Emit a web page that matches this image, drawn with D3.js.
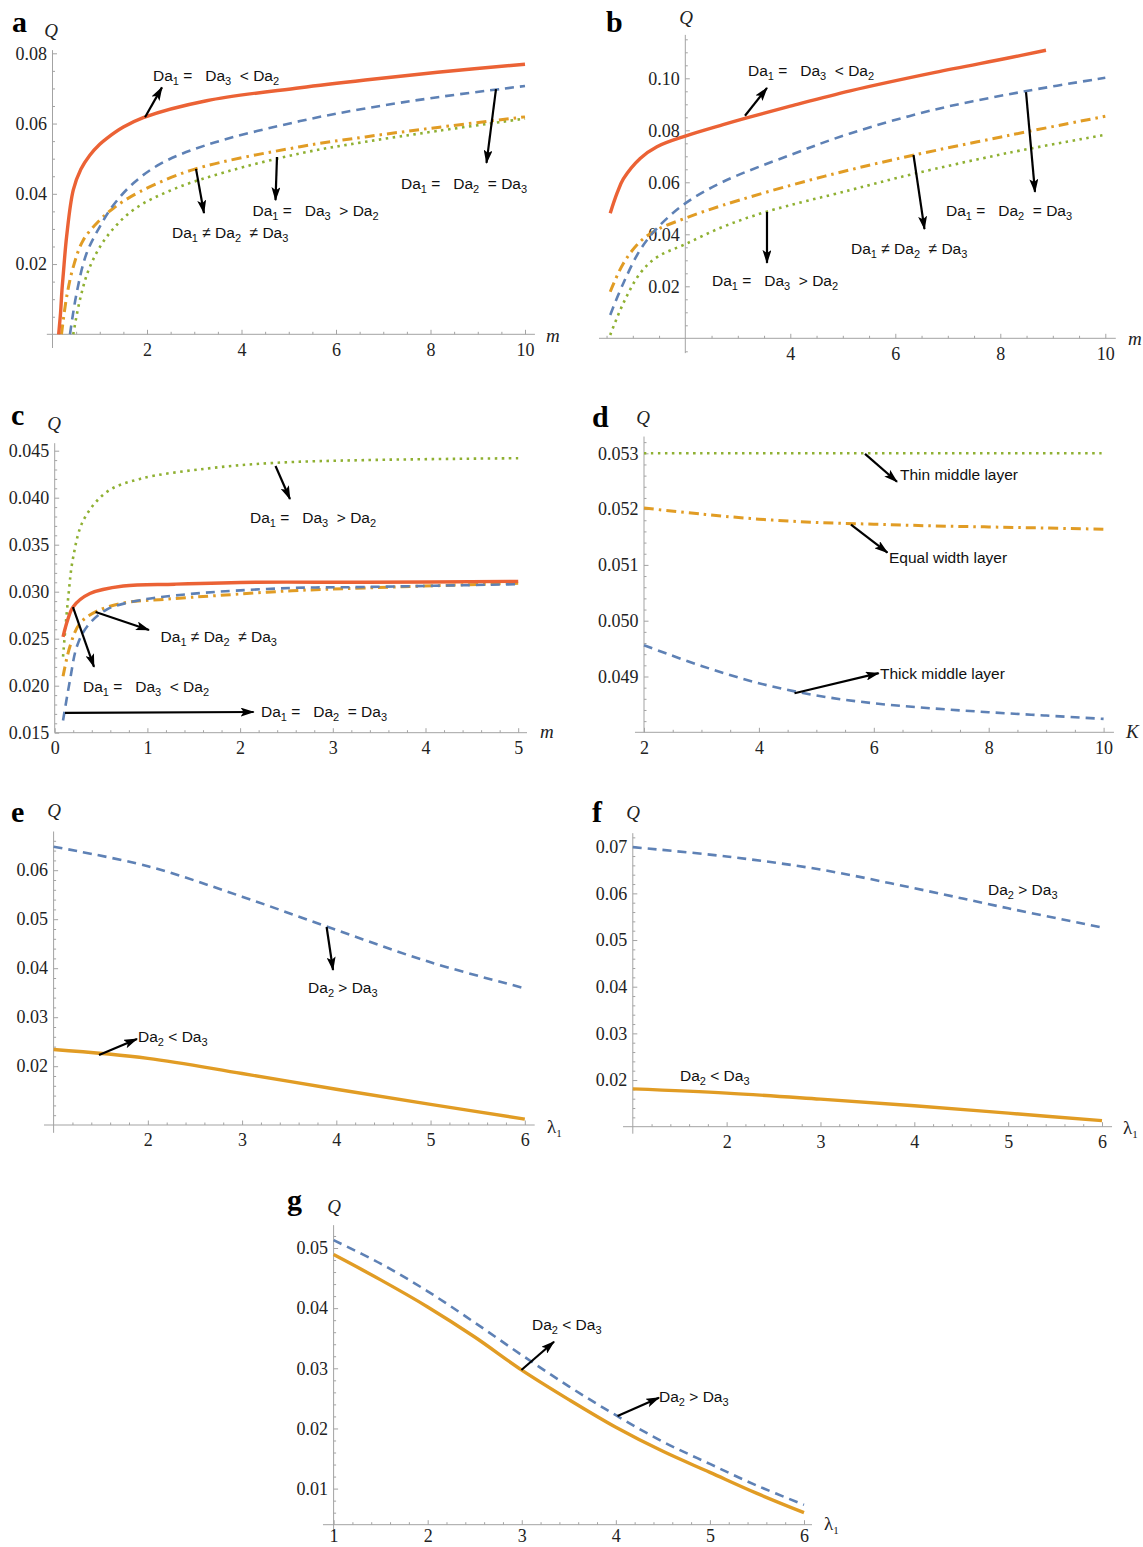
<!DOCTYPE html>
<html>
<head>
<meta charset="utf-8">
<script src="https://cdn.jsdelivr.net/npm/d3@7"></script>
<style>
  body { margin: 0; background: #fff; }
  svg { display: block; }
  .note { font-family: "Liberation Sans", Arial, sans-serif; font-size: 15.5px; fill: #111; white-space: pre; }
  .tick text { font-family: "Liberation Serif", "Times New Roman", serif; font-size: 18px; fill: #222; }
  .letter { font-family: "Liberation Serif", "Times New Roman", serif; font-size: 30px; font-weight: bold; }
  .aname { font-family: "Liberation Serif", "Times New Roman", serif; font-size: 19px; font-style: italic; fill: #222; }
</style>
</head>
<body>
<script>
// ---- data ----
// panel a  (m, Q)
const aRed    = [[0.13,0],[0.17,0.006],[0.2,0.0125],[0.23,0.0174],[0.3,0.028],[0.44,0.0411],[0.6,0.047],[0.79,0.051],[1.0,0.0541],[1.15,0.0558],[1.5,0.059],[1.92,0.0617],[3.26,0.0665],[5.24,0.0702],[6.62,0.0724],[8.15,0.0746],[10,0.0769]];
const aBlue   = [[0.37,0],[0.51,0.0117],[0.72,0.023],[1.0,0.0306],[1.29,0.0368],[1.71,0.043],[2.28,0.0485],[3.26,0.0539],[5.24,0.0607],[6.62,0.0643],[8.15,0.0675],[10,0.0707]];
const aOrange = [[0.19,0],[0.3,0.0107],[0.44,0.0192],[0.65,0.0268],[1.0,0.0325],[1.29,0.0359],[1.85,0.0406],[2.98,0.0469],[5.24,0.0534],[6.62,0.0562],[8.15,0.0589],[10,0.0619]];
const aGreen  = [[0.44,0],[0.58,0.0098],[0.79,0.0192],[1.15,0.0278],[1.71,0.0354],[2.56,0.0413],[3.69,0.0463],[5.24,0.0515],[6.62,0.0548],[8.15,0.0579],[10,0.0614]];
const aXTicks = [2, 4, 6, 8, 10];
const aYTicks = [0.02, 0.04, 0.06, 0.08];

// panel b  (m, Q)
const bRed    = [[0.57,0.0481],[0.7,0.0558],[0.82,0.0613],[1.14,0.0692],[1.46,0.0737],[2,0.0778],[2.72,0.0822],[3.17,0.0848],[4,0.0893],[5.14,0.0952],[6.76,0.1023],[8.15,0.1078],[8.87,0.1108]];
const bBlue   = [[0.57,0.009],[0.82,0.0212],[1.14,0.034],[1.46,0.0423],[2,0.0519],[2.72,0.0602],[4,0.0705],[5.14,0.0788],[6.76,0.088],[8.47,0.095],[10,0.1002]];
const bOrange = [[0.57,0.0179],[0.82,0.0288],[1.14,0.0372],[1.46,0.0417],[2,0.0462],[2.72,0.0512],[4,0.0588],[5.14,0.0648],[6.34,0.0704],[8.15,0.078],[10,0.0854]];
const bGreen  = [[0.57,0.0013],[0.82,0.0135],[1.14,0.025],[1.46,0.0312],[2,0.0362],[2.72,0.0429],[3.55,0.0487],[5.14,0.057],[6.34,0.0632],[8.15,0.0713],[10,0.0783]];
const bXTicks = [4, 6, 8, 10];
const bYTicks = [0.02, 0.04, 0.06, 0.08, 0.10];

// panel c  (m, Q)
const cRed    = [[0.09,0.0252],[0.14,0.027],[0.2,0.0284],[0.38,0.0298],[0.74,0.0306],[1.3,0.0308],[2.17,0.031],[3.35,0.031],[5,0.0311]];
const cBlue   = [[0.09,0.0163],[0.165,0.0206],[0.24,0.0242],[0.35,0.0263],[0.56,0.0281],[0.92,0.0291],[1.3,0.0296],[1.77,0.03],[2.56,0.0304],[3.35,0.0305],[5,0.0308]];
const cOrange = [[0.09,0.021],[0.165,0.0242],[0.27,0.0266],[0.45,0.0279],[0.74,0.0288],[1.2,0.0292],[1.77,0.0296],[2.56,0.0301],[3.35,0.0304],[5,0.0309]];
const cGreen  = [[0.09,0.0231],[0.147,0.0295],[0.2,0.0337],[0.31,0.0376],[0.56,0.0406],[0.92,0.042],[1.64,0.0431],[2.36,0.0437],[3.35,0.044],[5,0.0442]];
const cXTicks = [0, 1, 2, 3, 4, 5];
const cYTicks = [0.015, 0.020, 0.025, 0.030, 0.035, 0.040, 0.045];

// panel d  (K, Q)
const dK      = [2, 3, 4, 5, 6, 7, 8, 9, 10];
const dThin   = [0.053, 0.053, 0.053, 0.053, 0.053, 0.053, 0.053, 0.053, 0.053];
const dEqual  = [0.05202, 0.05191, 0.05182, 0.05176, 0.05173, 0.0517, 0.05168, 0.05166, 0.05164];
const dThick  = [0.04956, 0.04919, 0.04888, 0.04866, 0.04852, 0.04843, 0.04836, 0.0483, 0.04824];
const dXTicks = [2, 4, 6, 8, 10];
const dYTicks = [0.049, 0.050, 0.051, 0.052, 0.053];

// panel e  (lambda1, Q)
const eLam    = [1, 2, 3, 4, 5, 6];
const eBlue   = [0.0648, 0.0608, 0.0546, 0.0478, 0.0412, 0.0359];
const eOrange = [0.0234, 0.0216, 0.0185, 0.0153, 0.0122, 0.0092];
const eXTicks = [2, 3, 4, 5, 6];
const eYTicks = [0.02, 0.03, 0.04, 0.05, 0.06];

// panel f
const fLam    = [1, 2, 3, 4, 5, 6];
const fBlue   = [0.0699, 0.0679, 0.0651, 0.0611, 0.0568, 0.0527];
const fOrange = [0.0181, 0.0172, 0.0159, 0.0145, 0.0129, 0.0113];
const fXTicks = [2, 3, 4, 5, 6];
const fYTicks = [0.02, 0.03, 0.04, 0.05, 0.06, 0.07];

// panel g
const gLam    = [1, 1.5, 2, 2.5, 3, 3.5, 4, 4.5, 5, 5.5, 6];
const gBlue   = [0.0513, 0.0474, 0.0428, 0.0376, 0.0322, 0.027, 0.0222, 0.0178, 0.0141, 0.0105, 0.0073];
const gOrange = [0.0489, 0.0447, 0.0402, 0.0352, 0.0297, 0.0248, 0.0202, 0.0162, 0.0127, 0.0092, 0.006];
const gXTicks = [1, 2, 3, 4, 5, 6];
const gYTicks = [0.01, 0.02, 0.03, 0.04, 0.05];

const zip = (xs, ys) => xs.map((v, i) => [v, ys[i]]);

// mathematica default palette
const styles = {
  red:     { stroke: '#EB6235', width: 3.4, dash: null },
  blue:    { stroke: '#5E81B5', width: 2.6, dash: '9,6' },
  orange:  { stroke: '#E19C24', width: 3,   dash: '10,5,2.5,5' },
  green:   { stroke: '#8FB032', width: 2.6, dash: '2.5,4.5' },
  orangeS: { stroke: '#E19C24', width: 3.4, dash: null }
};

const panels = [
  { letter: 'a', letterPos: [12, 32], qPos: [51, 37], xName: 'm', xNamePos: [546, 342],
    xDom: [0, 10], xRange: [52.5, 525], yDom: [0, 0.08], yRange: [334.3, 53.3],
    origin: [0, 0], xLine: [-0.12, 10.21], yLine: [-0.0039, 0.0809],
    xTicks: aXTicks, yTicks: aYTicks, xMinor: 0.5, yMinor: 0.005, yDigits: 2, xPad: 8.5,
    series: [[aGreen, 'green'], [aOrange, 'orange'], [aBlue, 'blue'], [aRed, 'red']],
    notes: [
      { t: 'Da_1 =   Da_3  < Da_2', at: [2.127, 0.072], arrow: [[1.958, 0.0618], [2.317, 0.0703]] },
      { t: 'Da_1 =   Da_2  = Da_3', at: [7.376, 0.0415], arrow: [[9.386, 0.0698], [9.185, 0.0488]] },
      { t: 'Da_1 =   Da_3  > Da_2', at: [4.233, 0.0338], arrow: [[4.751, 0.0505], [4.72, 0.0382]] },
      { t: 'Da_1 \u2260 Da_2  \u2260 Da_3', at: [2.529, 0.0273], arrow: [[3.037, 0.0471], [3.206, 0.0345]] }
    ] },
  { letter: 'b', letterPos: [606, 32], qPos: [686, 24], xName: 'm', xNamePos: [1128, 345],
    xDom: [2, 10], xRange: [685.3, 1105.3], yDom: [0, 0.10], yRange: [338.3, 78.3],
    origin: [2, 0], xLine: [0.356, 10.2], yLine: [-0.0057, 0.1167],
    xTicks: bXTicks, yTicks: bYTicks, xMinor: 0.5, yMinor: 0.005, yDigits: 2, xPad: 8.5,
    series: [[bGreen, 'green'], [bOrange, 'orange'], [bBlue, 'blue'], [bRed, 'red']],
    notes: [
      { t: 'Da_1 =   Da_3  < Da_2', at: [3.194, 0.1007], arrow: [[3.137, 0.0856], [3.556, 0.0963]] },
      { t: 'Da_1 =   Da_2  = Da_3', at: [6.966, 0.0472], arrow: [[8.49, 0.0947], [8.661, 0.0563]] },
      { t: 'Da_1 \u2260 Da_2  \u2260 Da_3', at: [5.156, 0.0326], arrow: [[6.347, 0.0705], [6.556, 0.042]] },
      { t: 'Da_1 =   Da_3  > Da_2', at: [2.509, 0.0203], arrow: [[3.556, 0.0486], [3.556, 0.029]] }
    ] },
  { letter: 'c', letterPos: [11, 425], qPos: [54, 430], xName: 'm', xNamePos: [540, 738],
    xDom: [0, 5], xRange: [54.7, 518.2], yDom: [0.015, 0.045], yRange: [732.7, 450.7],
    origin: [0, 0.015], xLine: [0, 5.095], yLine: [0.015, 0.0458],
    xTicks: cXTicks, yTicks: cYTicks, xMinor: 0.2, yMinor: 0.001, yDigits: 3, xPad: 8.5,
    series: [[cGreen, 'green'], [cOrange, 'orange'], [cBlue, 'blue'], [cRed, 'red']],
    notes: [
      { t: 'Da_1 =   Da_3  > Da_2', at: [2.107, 0.03736], arrow: [[2.382, 0.04337], [2.538, 0.03986]] },
      { t: 'Da_1 \u2260 Da_2  \u2260 Da_3', at: [1.142, 0.0246], arrow: [[0.441, 0.02784], [1.017, 0.02593]] },
      { t: 'Da_1 =   Da_3  < Da_2', at: [0.305, 0.01928], arrow: [[0.197, 0.02837], [0.424, 0.022]] },
      { t: 'Da_1 =   Da_2  = Da_3', at: [2.225, 0.01662], arrow: [[0.111, 0.0171], [2.146, 0.0172]] }
    ] },
  { letter: 'd', letterPos: [592, 427], qPos: [643, 424], xName: 'K', xNamePos: [1126, 738],
    xDom: [2, 10], xRange: [644, 1103.6], yDom: [0.048, 0.053], yRange: [732.3, 453.3],
    origin: [2, 0.048], xLine: [1.843, 10.18], yLine: [0.048, 0.0533],
    xTicks: dXTicks, yTicks: dYTicks, xMinor: 0.5, yMinor: 0.0002, yDigits: 3, xPad: 8.5,
    series: [[zip(dK, dThin), 'green'], [zip(dK, dEqual), 'orange'], [zip(dK, dThick), 'blue']],
    notes: [
      { t: 'Thin middle layer', at: [6.456, 0.05253], arrow: [[5.847, 0.05299], [6.404, 0.05249]] },
      { t: 'Equal width layer', at: [6.265, 0.05103], arrow: [[5.603, 0.05172], [6.238, 0.05122]] },
      { t: 'Thick middle layer', at: [6.108, 0.04896], arrow: [[4.62, 0.0487], [6.085, 0.04906]] }
    ] },
  { letter: 'e', letterPos: [11, 822], qPos: [54, 817], xName: 'λ_1', xNamePos: [547, 1133],
    xDom: [1, 6], xRange: [53.6, 524.8], yDom: [0.008, 0.06], yRange: [1125, 870.2],
    origin: [1, 0.008], xLine: [0.898, 6.105], yLine: [0.0064, 0.0679],
    xTicks: eXTicks, yTicks: eYTicks, xMinor: 0.2, yMinor: 0.002, yDigits: 2, xPad: 8.5,
    series: [[zip(eLam, eBlue), 'blue'], [zip(eLam, eOrange), 'orangeS']],
    notes: [
      { t: 'Da_2 > Da_3', at: [3.7, 0.03484], arrow: [[3.897, 0.04841], [3.965, 0.03963]] },
      { t: 'Da_2 < Da_3', at: [1.896, 0.02504], arrow: [[1.482, 0.02229], [1.885, 0.02555]] }
    ] },
  { letter: 'f', letterPos: [592, 822], qPos: [633, 819], xName: 'λ_1', xNamePos: [1123, 1134],
    xDom: [1, 6], xRange: [632.8, 1102], yDom: [0.01, 0.07], yRange: [1126.7, 846.7],
    origin: [1, 0.01], xLine: [0.896, 6.107], yLine: [0.0085, 0.0729],
    xTicks: fXTicks, yTicks: fYTicks, xMinor: 0.2, yMinor: 0.002, yDigits: 2, xPad: 8.5,
    series: [[zip(fLam, fBlue), 'blue'], [zip(fLam, fOrange), 'orangeS']],
    notes: [
      { t: 'Da_2 > Da_3', at: [4.785, 0.05975] },
      { t: 'Da_2 < Da_3', at: [1.503, 0.0199] }
    ] },
  { letter: 'g', letterPos: [287, 1210], qPos: [334, 1213], xName: 'λ_1', xNamePos: [824, 1530],
    xDom: [1, 6], xRange: [333.6, 804], yDom: [0.004, 0.05], yRange: [1524.7, 1248],
    origin: [1, 0.004], xLine: [0.887, 6.085], yLine: [0.0027, 0.0538],
    xTicks: gXTicks, yTicks: gYTicks, xMinor: 0.2, yMinor: 0.002, yDigits: 2, xPad: 5,
    series: [[zip(gLam, gBlue), 'blue'], [zip(gLam, gOrange), 'orangeS']],
    notes: [
      { t: 'Da_2 < Da_3', at: [3.109, 0.03645], arrow: [[2.996, 0.02972], [3.343, 0.03442]] },
      { t: 'Da_2 > Da_3', at: [4.459, 0.02448], arrow: [[4.018, 0.02207], [4.459, 0.02511]] }
    ] }
];

const svg = d3.select('body').append('svg')
  .attr('width', 1143)
  .attr('height', 1547);
svg.append('rect').attr('width', 1143).attr('height', 1547).attr('fill', '#fff');

svg.append('defs').append('marker')
  .attr('id', 'head')
  .attr('viewBox', '0 0 14 9')
  .attr('refX', 13)
  .attr('refY', 4.5)
  .attr('markerWidth', 14)
  .attr('markerHeight', 9)
  .attr('markerUnits', 'userSpaceOnUse')
  .attr('orient', 'auto')
  .append('path')
  .attr('d', 'M0,0 L14,4.5 L0,9 L3,4.5 Z')
  .attr('fill', '#000');

// minor tick positions between lo and hi, skipping the majors
function minors(lo, hi, step, majors) {
  const out = [];
  const n0 = Math.ceil(lo / step - 1e-6), n1 = Math.floor(hi / step + 1e-6);
  for (let i = n0; i <= n1; i++) {
    const v = i * step;
    if (!majors.some(m => Math.abs(m - v) < step / 10)) out.push(v);
  }
  return out;
}

// text with "_d" subscripts
function richText(g, str, px, py, cls) {
  const t = g.append('text').attr('class', cls).attr('x', px).attr('y', py);
  let down = false;
  str.split(/(_\d)/).forEach(s => {
    if (!s) return;
    if (s[0] === '_') {
      t.append('tspan').attr('dy', 4).style('font-size', '11px').style('font-style', 'normal').text(s.slice(1));
      down = true;
    } else {
      const ts = t.append('tspan').text(s);
      if (down) { ts.attr('dy', -4); down = false; }
    }
  });
  return t;
}

function drawPanel(p) {
  const x = d3.scaleLinear().domain(p.xDom).range(p.xRange);
  const y = d3.scaleLinear().domain(p.yDom).range(p.yRange);
  const g = svg.append('g');
  const axColor = '#a3a3a3';

  // axis lines
  g.append('line')
    .attr('x1', x(p.xLine[0])).attr('x2', x(p.xLine[1]))
    .attr('y1', y(p.origin[1])).attr('y2', y(p.origin[1]))
    .attr('stroke', axColor).attr('stroke-width', 1);
  g.append('line')
    .attr('x1', x(p.origin[0])).attr('x2', x(p.origin[0]))
    .attr('y1', y(p.yLine[0])).attr('y2', y(p.yLine[1]))
    .attr('stroke', axColor).attr('stroke-width', 1);

  // x ticks
  const xg = g.append('g').attr('transform', `translate(0,${y(p.origin[1])})`).attr('color', axColor);
  xg.call(d3.axisBottom(x).tickValues(minors(p.xLine[0], p.xLine[1], p.xMinor, p.xTicks.concat([p.origin[0]])))
    .tickSize(-2.5).tickFormat(''));
  xg.append('g').call(d3.axisBottom(x).tickValues(p.xTicks).tickSize(-4.5).tickPadding(p.xPad).tickFormat(d3.format('d')));
  xg.selectAll('.domain').remove();

  // y ticks
  const yg = g.append('g').attr('transform', `translate(${x(p.origin[0])},0)`).attr('color', axColor);
  yg.call(d3.axisLeft(y).tickValues(minors(p.yLine[0], p.yLine[1], p.yMinor, p.yTicks.concat([p.origin[1]])))
    .tickSize(-2.5).tickFormat(''));
  yg.append('g').call(d3.axisLeft(y).tickValues(p.yTicks).tickSize(-4.5).tickPadding(5.5).tickFormat(d3.format('.' + p.yDigits + 'f')));
  yg.selectAll('.domain').remove();
  g.selectAll('.tick text').attr('fill', '#222');

  // curves
  const line = d3.line().x(d => x(d[0])).y(d => y(d[1])).curve(d3.curveCatmullRom.alpha(0.5));
  p.series.forEach(([data, key]) => {
    const st = styles[key];
    g.append('path')
      .datum(data)
      .attr('d', line)
      .attr('fill', 'none')
      .attr('stroke', st.stroke)
      .attr('stroke-width', st.width)
      .attr('stroke-dasharray', st.dash)
      .attr('stroke-linejoin', 'round');
  });

  // annotations
  p.notes.forEach(n => {
    if (n.arrow) {
      g.append('line')
        .attr('x1', x(n.arrow[0][0])).attr('y1', y(n.arrow[0][1]))
        .attr('x2', x(n.arrow[1][0])).attr('y2', y(n.arrow[1][1]))
        .attr('stroke', '#000').attr('stroke-width', 2.2)
        .attr('marker-end', 'url(#head)');
    }
    richText(g, n.t, x(n.at[0]), y(n.at[1]), 'note');
  });

  // panel letter and axis names
  g.append('text').attr('class', 'letter').attr('x', p.letterPos[0]).attr('y', p.letterPos[1]).text(p.letter);
  g.append('text').attr('class', 'aname').attr('x', p.qPos[0]).attr('y', p.qPos[1])
    .attr('text-anchor', 'middle').text('Q');
  const xn = richText(g, p.xName, p.xNamePos[0], p.xNamePos[1], 'aname');
  if (p.xName.startsWith('λ')) xn.style('font-style', 'normal');
}

panels.forEach(drawPanel);
</script>
</body>
</html>
